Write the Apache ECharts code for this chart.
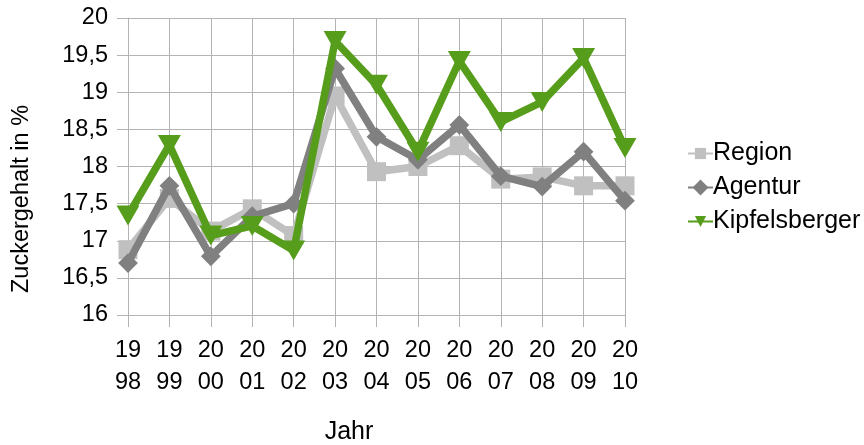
<!DOCTYPE html>
<html>
<head>
<meta charset="utf-8">
<script src="https://cdn.jsdelivr.net/npm/echarts@6/dist/echarts.min.js"></script>
<style>html,body{margin:0;padding:0;background:#fff;}#c{width:864px;height:445px;}</style>
</head>
<body>
<div id="c"></div>
<script>
var years = ["1998","1999","2000","2001","2002","2003","2004","2005","2006","2007","2008","2009","2010"];
var region = [16.88, 17.57, 17.13, 17.43, 17.07, 18.95, 17.93, 18.0, 18.28, 17.83, 17.86, 17.74, 17.74];
var agentur = [16.7, 17.74, 16.79, 17.33, 17.5, 19.32, 18.4, 18.09, 18.56, 17.87, 17.73, 18.2, 17.54];
var kipfelsberger = [17.34, 18.29, 17.07, 17.2, 16.87, 19.69, 19.1, 18.2, 19.42, 18.6, 18.87, 19.46, 18.25];
var seriesNames = ["Region", "Agentur", "Kipfelsberger"];
var yTicks = {min: 16, max: 20, step: 0.5};

var FONT = "Liberation Sans";
var chart = echarts.init(document.getElementById('c'));
var gridColor = '#b3b3b3';
chart.setOption({
  animation: false,
  backgroundColor: '#ffffff',
  textStyle: {fontFamily: FONT, color: '#000'},
  grid: {left: 128, right: 239, top: 18, bottom: 130, containLabel: false},
  xAxis: {
    type: 'category',
    data: years,
    boundaryGap: false,
    axisLine: {show: true, lineStyle: {color: gridColor, width: 1}},
    axisTick: {show: true, length: 12, alignWithLabel: true, lineStyle: {color: gridColor}},
    splitLine: {show: true, lineStyle: {color: gridColor, width: 1}},
    axisLabel: {
      fontFamily: FONT, fontSize: 23.5, color: '#000', lineHeight: 32, margin: 20,
      formatter: function (v) { return v.slice(0, 2) + '\n' + v.slice(2); }
    }
  },
  yAxis: {
    type: 'value',
    min: yTicks.min, max: yTicks.max, interval: yTicks.step,
    axisLine: {show: true, lineStyle: {color: gridColor, width: 1}},
    axisTick: {show: true, length: 11, lineStyle: {color: gridColor}},
    splitLine: {show: true, lineStyle: {color: gridColor, width: 1}},
    axisLabel: {
      fontFamily: FONT, fontSize: 23.5, color: '#000', margin: 20,
      formatter: function (v) { return String(v).replace('.', ','); }
    }
  },
  legend: {
    orient: 'vertical',
    left: 682, top: 136,
    itemWidth: 25, itemHeight: 14, itemGap: 9,
    textStyle: {fontFamily: FONT, fontSize: 25, color: '#000', lineHeight: 25, padding: [0, 0, 0, -5]},
    data: seriesNames
  },
  graphic: [
    {type: 'text', position: [22, 199], rotation: Math.PI / 2,
     style: {text: 'Zuckergehalt in %', fontFamily: FONT, fontSize: 23.5, fill: '#000', textAlign: 'center', textVerticalAlign: 'middle'}},
    {type: 'text', position: [349, 432],
     style: {text: 'Jahr', fontFamily: FONT, fontSize: 25, fill: '#000', textAlign: 'center', textVerticalAlign: 'middle'}}
  ],
  series: [
    {name: seriesNames[0], type: 'line', data: region, color: '#c0c0c0',
     lineStyle: {width: 7.5, color: '#c0c0c0'}, symbol: 'rect', symbolSize: 19,
     itemStyle: {color: '#c0c0c0'}, z: 2},
    {name: seriesNames[1], type: 'line', data: agentur, color: '#808080',
     lineStyle: {width: 7.5, color: '#808080'}, symbol: 'rect', symbolSize: 14, symbolRotate: 45,
     itemStyle: {color: '#808080'}, z: 3},
    {name: seriesNames[2], type: 'line', data: kipfelsberger, color: '#579d1c',
     lineStyle: {width: 7.5, color: '#579d1c'}, symbol: 'triangle', symbolSize: [23, 20], symbolRotate: 180,
     itemStyle: {color: '#579d1c'}, z: 4}
  ]
});
</script>
</body>
</html>
